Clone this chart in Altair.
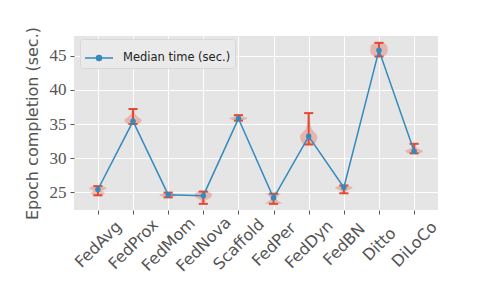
import altair as alt
import pandas as pd

methods = ["FedAvg", "FedProx", "FedMom", "FedNova", "Scaffold",
           "FedPer", "FedDyn", "FedBN", "Ditto", "DiLoCo"]
medians = [25.4, 35.4, 24.65, 24.5, 35.8, 24.15, 33.2, 25.7, 45.8, 31.0]
mins = [24.55, 35.0, 24.25, 23.3, 35.5, 23.3, 32.0, 24.85, 44.9, 30.7]
maxs = [25.9, 37.2, 24.95, 25.1, 36.3, 24.8, 36.6, 26.0, 46.9, 32.1]
# relative violin widths at 5 evenly spaced levels from min to max
violin_shapes = [
    [0.4, 0.8, 0.5, 1.0, 0.5],
    [0.6, 1.0, 0.5, 0.2, 0.15],
    [0.3, 0.8, 1.0, 0.6, 0.3],
    [0.15, 0.25, 0.8, 1.0, 0.6],
    [0.3, 0.9, 1.0, 0.4, 0.2],
    [1.0, 0.6, 0.3, 0.5, 0.9],
    [0.6, 1.0, 0.35, 0.15, 0.1],
    [0.2, 0.3, 0.7, 1.0, 0.3],
    [0.5, 0.95, 1.0, 0.95, 0.5],
    [0.7, 1.0, 0.4, 0.2, 0.15],
]
series_name = "Median time (sec.)"
VIOLIN_HALF = 0.25
CAP_HALF = 0.13

summary = pd.DataFrame({
    "idx": list(range(len(methods))),
    "method": methods,
    "median": medians,
    "lo": mins,
    "hi": maxs,
    "series": series_name,
})

vrows = []
for i, (lo, hi, shape) in enumerate(zip(mins, maxs, violin_shapes)):
    n = len(shape)
    for k, w in enumerate(shape):
        vrows.append({"idx": i, "v": lo + (hi - lo) * k / (n - 1), "w": w})
violins = pd.DataFrame(vrows)

label_expr = "[" + ",".join(f"'{m}'" for m in methods) + "][datum.value]"

xscale = alt.Scale(domain=[-0.68, 9.68], nice=False, zero=False)
yscale = alt.Scale(domain=[22.4, 47.9], nice=False, zero=False)

xaxis = alt.Axis(values=list(range(len(methods))), labelExpr=label_expr,
                 labelAngle=315, labelAlign="center", labelBaseline="middle",
                 labelPadding=30, title=None, labelFont="DejaVu Sans",
                 labelFontSize=16, labelColor="#555555", tickColor="#555555",
                 tickSize=4, grid=True, gridColor="white", gridWidth=1,
                 domain=False, labelFlush=False, labelOverlap=False)
yaxis = alt.Axis(values=[25, 30, 35, 40, 45], title="Epoch completion (sec.)",
                 titleFont="DejaVu Sans", titleFontSize=16, titleFontWeight="normal",
                 titleColor="#555555", titlePadding=9,
                 labelFont="Liberation Serif", labelFontSize=17, labelColor="#555555",
                 tickColor="#555555", tickSize=4, labelPadding=4,
                 grid=True, gridColor="white", gridWidth=1, domain=False)

violin = alt.Chart(violins).transform_calculate(
    x1=f"datum.idx - {VIOLIN_HALF} * datum.w",
    x2=f"datum.idx + {VIOLIN_HALF} * datum.w",
).mark_area(orient="horizontal", interpolate="monotone", color="#E24A33",
            opacity=0.3).encode(
    y=alt.Y("v:Q", scale=yscale, axis=yaxis),
    x=alt.X("x1:Q", scale=xscale, axis=xaxis),
    x2="x2:Q",
    detail="idx:N",
)

errbar = alt.Chart(summary).mark_rule(color="#E24A33", strokeWidth=2).encode(
    x=alt.X("idx:Q", scale=xscale),
    y=alt.Y("lo:Q", scale=yscale),
    y2="hi:Q",
)

caps_base = alt.Chart(summary).transform_calculate(
    c1=f"datum.idx - {CAP_HALF}", c2=f"datum.idx + {CAP_HALF}"
)
cap_lo = caps_base.mark_rule(color="#E24A33", strokeWidth=2).encode(
    x=alt.X("c1:Q", scale=xscale), x2="c2:Q", y=alt.Y("lo:Q", scale=yscale))
cap_hi = caps_base.mark_rule(color="#E24A33", strokeWidth=2).encode(
    x=alt.X("c1:Q", scale=xscale), x2="c2:Q", y=alt.Y("hi:Q", scale=yscale))

legend = alt.Legend(
    title=None, orient="none", legendX=6, legendY=3,
    symbolType="M -1 0 L 1 0 M 0.18 0 A 0.18 0.18 0 1 1 -0.18 0 A 0.18 0.18 0 1 1 0.18 0 Z",
    symbolSize=784, symbolStrokeWidth=1.5, symbolFillColor="#348ABD",
    symbolStrokeColor="#348ABD",
    labelFont="DejaVu Sans", labelFontSize=11.5, labelColor="#222222",
    labelOffset=9, padding=4, fillColor="#EAEAEA", strokeColor="#D8D8D8",
    cornerRadius=3,
)

line = alt.Chart(summary).mark_line(strokeWidth=1.5).encode(
    x=alt.X("idx:Q", scale=xscale),
    y=alt.Y("median:Q", scale=yscale),
    color=alt.Color("series:N", scale=alt.Scale(range=["#348ABD"]), legend=legend),
)
points = alt.Chart(summary).mark_circle(size=30, opacity=1, color="#348ABD").encode(
    x=alt.X("idx:Q", scale=xscale),
    y=alt.Y("median:Q", scale=yscale),
)

chart = alt.layer(violin, errbar, cap_lo, cap_hi, line, points).properties(
    width=364, height=174,
    autosize=alt.AutoSizeParams(type="none"),
    padding={"left": 66, "top": 28, "right": 42, "bottom": 75},
    background="white",
).configure_view(fill="#E5E5E5", stroke=None)

chart.save("out.html", embed_options={"renderer": "svg", "actions": False})
